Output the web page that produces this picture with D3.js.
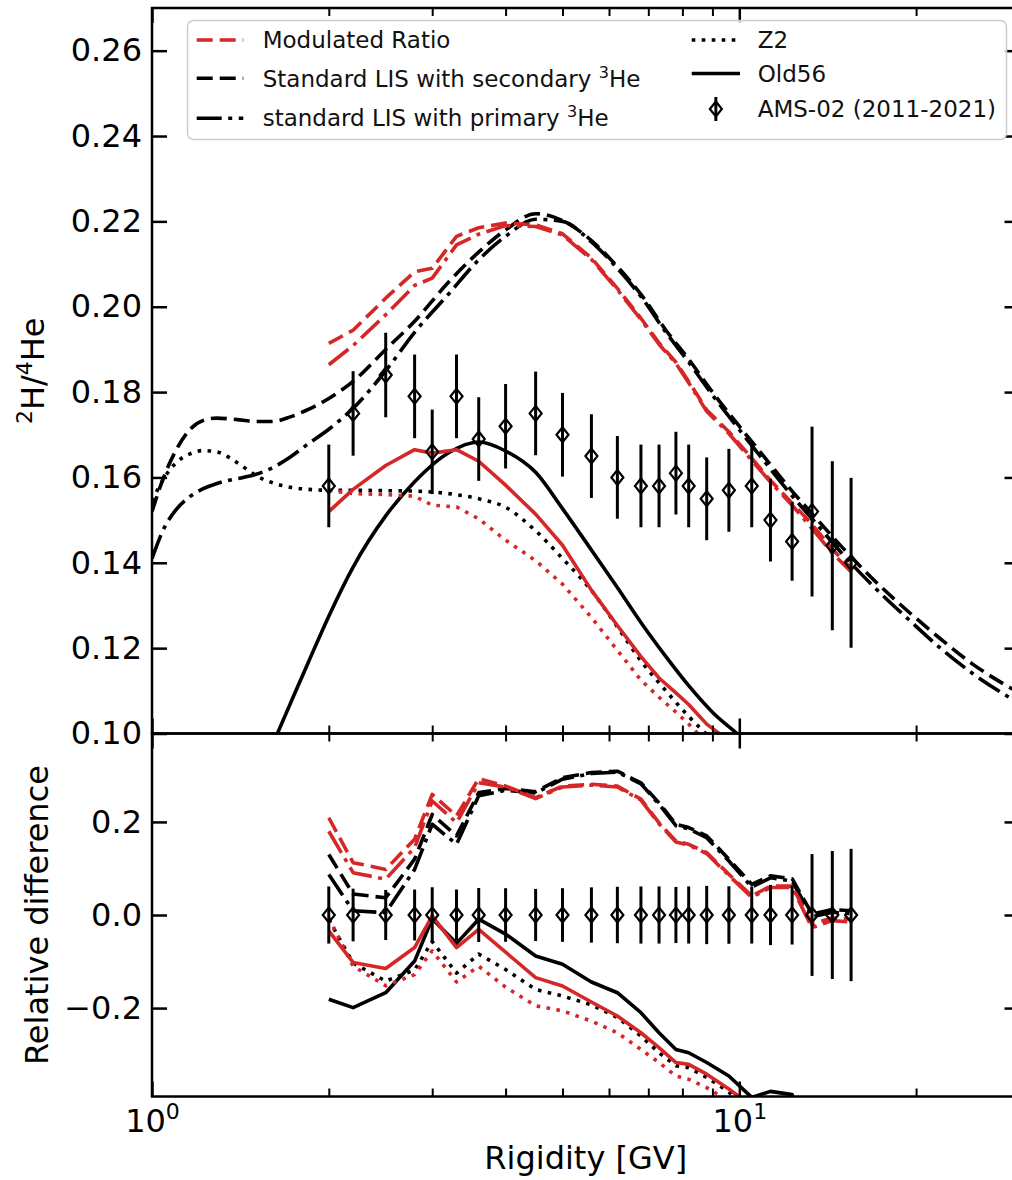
<!DOCTYPE html>
<html><head><meta charset="utf-8">
<script src="https://cdn.jsdelivr.net/npm/d3@7"></script>
<style>body{margin:0;background:#fff} svg{display:block;font-family:"DejaVu Sans",sans-serif}</style>
</head><body><div id="chart"></div>
<script>
// ---------------- data ----------------
const rigidity = [2.0,2.2,2.5,2.8,3.0,3.3,3.6,4.0,4.5,5.0,5.6,6.2,6.8,7.3,7.8,8.2,8.8,9.6,10.5,11.3,12.3,13.3,14.4,15.5];
const amsRatio = [0.158,0.175,0.184,0.179,0.166,0.179,0.169,0.172,0.175,0.170,0.165,0.160,0.158,0.158,0.161,0.158,0.155,0.157,0.158,0.150,0.145,0.152,0.144,0.140];
const amsErr   = [0.0097,0.0099,0.0099,0.0098,0.0099,0.0098,0.0098,0.0099,0.0098,0.0098,0.0098,0.0097,0.0097,0.0097,0.0097,0.0097,0.0097,0.0097,0.0097,0.0097,0.0092,0.0199,0.0198,0.0199];

const modSecondary = [0.1914,0.1945,0.2020,0.2082,0.2090,0.2165,0.2185,0.2196,0.2192,0.2171,0.2114,0.2043,0.1973,0.1915,0.1870,0.1825,0.1758,0.1707,0.1645,0.1593,0.1540,0.1490,0.1432,0.1387];
const modPrimary   = [0.1864,0.1909,0.1981,0.2050,0.2067,0.2145,0.2170,0.2190,0.2188,0.2168,0.2111,0.2040,0.1970,0.1912,0.1867,0.1822,0.1755,0.1703,0.1640,0.1589,0.1535,0.1480,0.1423,0.1379];
const modOld56     = [0.1520,0.1572,0.1628,0.1665,0.1657,0.1665,0.1638,0.1582,0.1514,0.1441,0.1336,0.1253,0.1180,0.1130,0.1095,0.1068,0.1022,0.0983,0.0930,0.0880,0.0830,0.0790,0.0750,0.0710];
const modZ2        = [0.1570,0.1562,0.1560,0.1556,0.1535,0.1531,0.1503,0.1453,0.1405,0.1350,0.1272,0.1195,0.1125,0.1085,0.1050,0.1022,0.0978,0.0940,0.0890,0.0850,0.0810,0.0770,0.0730,0.0690];

const lisRigidity  = [1.0,1.05,1.1,1.16,1.22,1.29,1.36,1.43,1.5,1.6,1.72,1.85,2.0,2.2,2.5,2.8,3.2,3.6,4.0,4.5,5.0,5.6,6.2,6.8,7.5,8.2,9.0,10,11,12.3,13.5,15,17,19.5,22,25,30];
const lisSecondary = [0.1520,0.1605,0.1665,0.1712,0.1733,0.1739,0.1737,0.1734,0.1731,0.1731,0.1742,0.1760,0.1785,0.1825,0.1900,0.1966,0.2058,0.2128,0.2180,0.2218,0.2202,0.2155,0.2094,0.2029,0.1945,0.1877,0.1800,0.1720,0.1650,0.1568,0.1505,0.1435,0.1358,0.1283,0.1222,0.1162,0.1095];
const lisPrimary   = [0.1410,0.1483,0.1525,0.1555,0.1573,0.1586,0.1594,0.1600,0.1607,0.1622,0.1648,0.1680,0.1713,0.1762,0.1850,0.1940,0.2030,0.2110,0.2165,0.2205,0.2200,0.2152,0.2090,0.2024,0.1940,0.1870,0.1793,0.1712,0.1640,0.1557,0.1493,0.1420,0.1342,0.1265,0.1200,0.1140,0.1070];
const lisZ2        = [0.1545,0.1600,0.1635,0.1655,0.1663,0.1660,0.1645,0.1625,0.1605,0.1588,0.1577,0.1572,0.1570,0.1570,0.1569,0.1568,0.1562,0.1550,0.1530,0.1475,0.1410,0.1335,0.1250,0.1170,0.1100,0.1040,0.0985,0.0925,0.0870,0.0810,0.0760,0.0710,0.0650,0.0590,0.0540,0.0490,0.0420];
const lisOld56     = [0.0240,0.0330,0.0420,0.0520,0.0610,0.0700,0.0760,0.0815,0.0880,0.0970,0.1070,0.1170,0.1275,0.1390,0.1510,0.1590,0.1658,0.1683,0.1662,0.1612,0.1527,0.1430,0.1342,0.1260,0.1180,0.1112,0.1050,0.0995,0.0940,0.0870,0.0810,0.0750,0.0680,0.0610,0.0550,0.0490,0.0420];

const relSecondary    = [0.130,0.045,0.037,0.120,0.216,0.170,0.263,0.272,0.265,0.295,0.306,0.309,0.284,0.241,0.195,0.188,0.170,0.120,0.066,0.084,0.078,0.002,0.012,0.009];
const relPrimary      = [0.087,0.009,0.005,0.098,0.195,0.152,0.256,0.268,0.262,0.292,0.304,0.307,0.282,0.238,0.192,0.185,0.166,0.116,0.060,0.080,0.073,-0.004,0.006,0.003];
const relZ2           = [-0.010,-0.103,-0.142,-0.118,-0.057,-0.125,-0.084,-0.117,-0.160,-0.174,-0.193,-0.220,-0.260,-0.296,-0.324,-0.328,-0.349,-0.380,-0.440,-0.450,-0.460,-0.500,-0.520,-0.550];
const relOld56        = [-0.181,-0.199,-0.167,-0.099,-0.008,-0.061,-0.009,-0.041,-0.088,-0.106,-0.144,-0.167,-0.210,-0.253,-0.289,-0.296,-0.317,-0.346,-0.392,-0.379,-0.386,-0.500,-0.520,-0.550];
const relModSecondary = [0.209,0.1125,0.098,0.163,0.259,0.213,0.293,0.277,0.252,0.277,0.281,0.277,0.249,0.198,0.159,0.152,0.134,0.0875,0.041,0.062,0.062,-0.020,-0.006,-0.009];
const relModPrimary   = [0.180,0.091,0.077,0.145,0.245,0.1985,0.284,0.275,0.250,0.275,0.279,0.275,0.247,0.196,0.157,0.150,0.132,0.085,0.038,0.059,0.059,-0.027,-0.012,-0.015];
const relModZ2        = [-0.006,-0.110,-0.152,-0.128,-0.077,-0.144,-0.110,-0.155,-0.195,-0.206,-0.228,-0.253,-0.289,-0.317,-0.346,-0.353,-0.371,-0.400,-0.440,-0.450,-0.460,-0.500,-0.520,-0.550];
const relModOld56     = [-0.034,-0.102,-0.115,-0.070,-0.002,-0.070,-0.031,-0.080,-0.1345,-0.1525,-0.187,-0.217,-0.253,-0.285,-0.317,-0.321,-0.342,-0.374,-0.410,-0.410,-0.430,-0.480,-0.490,-0.500];

const topYTicks = [0.10,0.12,0.14,0.16,0.18,0.20,0.22,0.24,0.26];
const botYTicks = [-0.2,0.0,0.2];
const xMajorTicks = [1,10];
const xMinorTicks = [2,3,4,5,6,7,8,9,20,30];

// ---------------- layout ----------------
const W = 1012, H = 1180;
const RED = "#d62728", BLACK = "#000";
const LW = 3.6;
const DASH = "16,7", DASHDOT = "25,6.5,4,6.5", DOT = "3.6,6.4";

const svg = d3.select("#chart").append("svg").attr("width", W).attr("height", H);
svg.append("rect").attr("width", W).attr("height", H).attr("fill", "#fff");

const x = d3.scaleLog().domain([1, 30]).range([152, 152 + 587.3 * Math.log10(30)]);
const yTop = d3.scaleLinear().domain([0.10, 0.27]).range([733.5, 8]);
const yBot = d3.scaleLinear().domain([-0.39, 0.39]).range([1096.5, 733.5]);
const X0 = x.range()[0], X1 = x.range()[1];
const T0 = 8, TB = 733.5, BB = 1096.5;

const defs = svg.append("defs");
defs.append("clipPath").attr("id", "clipTop").append("rect")
  .attr("x", X0).attr("y", T0).attr("width", X1 - X0).attr("height", TB - T0);
defs.append("clipPath").attr("id", "clipBot").append("rect")
  .attr("x", X0).attr("y", TB).attr("width", X1 - X0).attr("height", BB - TB);

const gTop = svg.append("g").attr("clip-path", "url(#clipTop)");
const gBot = svg.append("g").attr("clip-path", "url(#clipBot)");

function drawLine(g, xs, ys, yScale, color, dash, smooth) {
  const pts = xs.map((r, i) => [r, ys[i]]);
  const line = d3.line().x(d => x(d[0])).y(d => yScale(d[1]))
    .curve(smooth ? d3.curveMonotoneX : d3.curveLinear);
  g.append("path").attr("d", line(pts)).attr("fill", "none")
    .attr("stroke", color).attr("stroke-width", LW)
    .attr("stroke-dasharray", dash).attr("stroke-linecap", "butt")
    .attr("stroke-linejoin", "round");
}

// top panel curves
drawLine(gTop, lisRigidity, lisSecondary, yTop, BLACK, DASH, true);
drawLine(gTop, lisRigidity, lisPrimary, yTop, BLACK, DASHDOT, true);
drawLine(gTop, lisRigidity, lisZ2, yTop, BLACK, DOT, true);
drawLine(gTop, lisRigidity, lisOld56, yTop, BLACK, null, true);
drawLine(gTop, rigidity, modSecondary, yTop, RED, DASH, false);
drawLine(gTop, rigidity, modPrimary, yTop, RED, DASHDOT, false);
drawLine(gTop, rigidity, modZ2, yTop, RED, DOT, false);
drawLine(gTop, rigidity, modOld56, yTop, RED, null, false);

// bottom panel curves
drawLine(gBot, rigidity, relSecondary, yBot, BLACK, DASH, false);
drawLine(gBot, rigidity, relPrimary, yBot, BLACK, DASHDOT, false);
drawLine(gBot, rigidity, relZ2, yBot, BLACK, DOT, false);
drawLine(gBot, rigidity, relOld56, yBot, BLACK, null, false);
drawLine(gBot, rigidity, relModSecondary, yBot, RED, DASH, false);
drawLine(gBot, rigidity, relModPrimary, yBot, RED, DASHDOT, false);
drawLine(gBot, rigidity, relModZ2, yBot, RED, DOT, false);
drawLine(gBot, rigidity, relModOld56, yBot, RED, null, false);

const diamond = "M0,-7.5L6,0L0,7.5L-6,0Z";
function drawErr(g, xs, vals, errs, yScale) {
  const d = xs.map((r, i) => ({r, v: vals[i], e: errs[i]}));
  g.selectAll(null).data(d).enter().append("line")
    .attr("x1", p => x(p.r)).attr("x2", p => x(p.r))
    .attr("y1", p => yScale(p.v - p.e)).attr("y2", p => yScale(p.v + p.e))
    .attr("stroke", BLACK).attr("stroke-width", 3);
  g.selectAll(null).data(d).enter().append("path")
    .attr("d", diamond).attr("transform", p => `translate(${x(p.r)},${yScale(p.v)})`)
    .attr("fill", "none").attr("stroke", BLACK).attr("stroke-width", 2.2);
}
drawErr(gTop, rigidity, amsRatio, amsErr, yTop);
drawErr(gBot, rigidity, amsRatio.map(() => 0), amsErr.map((e, i) => e / amsRatio[i]), yBot);

// ---------------- axes ----------------
function styleAxis(g, major) {
  g.select(".domain").remove();
  g.attr("font-family", "DejaVu Sans, sans-serif").attr("font-size", 32);
  g.selectAll(".tick line").attr("stroke", BLACK).attr("stroke-width", major ? 2.5 : 2);
  g.selectAll(".tick text").attr("fill", BLACK);
  return g;
}
function xAxes(axisFn, yPos, withLabels) {
  const gM = svg.append("g").attr("transform", `translate(0,${yPos})`)
    .call(axisFn(x).tickValues(xMajorTicks).tickSize(-15).tickSizeOuter(0).tickPadding(13)
      .tickFormat(withLabels ? (d => "10") : ""));
  styleAxis(gM, true);
  if (withLabels) {
    gM.selectAll(".tick text").each(function(d) {
      const t = d3.select(this);
      t.text(null);
      t.append("tspan").text("10");
      t.append("tspan").attr("font-size", 22).attr("dy", -13).text(Math.round(Math.log10(d)));
    });
  }
  const gm = svg.append("g").attr("transform", `translate(0,${yPos})`)
    .call(axisFn(x).tickValues(xMinorTicks).tickSize(-8).tickSizeOuter(0).tickFormat(""));
  styleAxis(gm, false);
}
// top panel
xAxes(d3.axisTop, T0, false);
xAxes(d3.axisBottom, TB, false);
// bottom panel
xAxes(d3.axisTop, TB, false);
xAxes(d3.axisBottom, BB, true);

styleAxis(svg.append("g").attr("transform", `translate(${X0},0)`)
  .call(d3.axisLeft(yTop).tickValues(topYTicks).tickSize(-15).tickSizeOuter(0).tickPadding(10)
    .tickFormat(d3.format(".2f"))), true);
styleAxis(svg.append("g").attr("transform", `translate(${X1},0)`)
  .call(d3.axisRight(yTop).tickValues(topYTicks).tickSize(-15).tickSizeOuter(0).tickFormat("")), true);
styleAxis(svg.append("g").attr("transform", `translate(${X0},0)`)
  .call(d3.axisLeft(yBot).tickValues(botYTicks).tickSize(-15).tickSizeOuter(0).tickPadding(10)
    .tickFormat(d3.format(".1f"))), true);
styleAxis(svg.append("g").attr("transform", `translate(${X1},0)`)
  .call(d3.axisRight(yBot).tickValues(botYTicks).tickSize(-15).tickSizeOuter(0).tickFormat("")), true);

// spines
svg.append("rect").attr("x", X0).attr("y", T0).attr("width", X1 - X0).attr("height", TB - T0)
  .attr("fill", "none").attr("stroke", BLACK).attr("stroke-width", 2.5);
svg.append("rect").attr("x", X0).attr("y", TB).attr("width", X1 - X0).attr("height", BB - TB)
  .attr("fill", "none").attr("stroke", BLACK).attr("stroke-width", 2.5);

// rich text with superscripts
function richText(sel, parts, big, supSize, shift) {
  let pending = 0;
  parts.forEach(p => {
    const ts = sel.append("tspan");
    if (p.sup) {
      ts.attr("font-size", supSize).attr("dy", pending - shift);
      pending = shift;
    } else {
      ts.attr("font-size", big);
      if (pending) ts.attr("dy", pending);
      pending = 0;
    }
    ts.text(p.t);
  });
}
const yl = svg.append("text").attr("transform", `translate(44,${(T0 + TB) / 2}) rotate(-90)`)
  .attr("text-anchor", "middle").attr("font-size", 32).attr("fill", BLACK);
richText(yl, [{t:"2", sup:true}, {t:"H/"}, {t:"4", sup:true}, {t:"He"}], 32, 22, 12);

svg.append("text").attr("transform", `translate(48,${(TB + BB) / 2}) rotate(-90)`)
  .attr("text-anchor", "middle").attr("font-size", 32).attr("fill", BLACK).text("Relative difference");
svg.append("text").attr("x", (X0 + X1) / 2).attr("y", 1169)
  .attr("text-anchor", "middle").attr("font-size", 32).attr("fill", BLACK).text("Rigidity [GV]");

// ---------------- legend ----------------
const lg = svg.append("g");
lg.append("rect").attr("x", 187.5).attr("y", 20.5).attr("width", 819).attr("height", 119).attr("rx", 6)
  .attr("fill", "#fff").attr("fill-opacity", 0.8).attr("stroke", "#cccccc").attr("stroke-width", 1.5);
const legendItems = [
  {x1:196.7, x2:243.3, tx:262.7, hy:40,    ty:48,    color:RED,   dash:DASH,    parts:[{t:"Modulated Ratio"}]},
  {x1:196.7, x2:243.3, tx:262.7, hy:78.3,  ty:86.5,  color:BLACK, dash:DASH,    parts:[{t:"Standard LIS with secondary "},{t:"3",sup:true},{t:"He"}]},
  {x1:196.7, x2:243.3, tx:262.7, hy:118.3, ty:126,   color:BLACK, dash:DASHDOT, parts:[{t:"standard LIS with primary "},{t:"3",sup:true},{t:"He"}]},
  {x1:691.7, x2:740,   tx:757.7, hy:40,    ty:48,    color:BLACK, dash:DOT,     parts:[{t:"Z2"}]},
  {x1:691.7, x2:740,   tx:757.7, hy:73.5,  ty:82,    color:BLACK, dash:null,    parts:[{t:"Old56"}]},
  {x1:691.7, x2:740,   tx:757.7, hy:109,   ty:117,   err:true,                  parts:[{t:"AMS-02 (2011-2021)"}]}
];
legendItems.forEach(it => {
  if (it.err) {
    const cx = (it.x1 + it.x2) / 2;
    lg.append("line").attr("x1", cx).attr("x2", cx).attr("y1", it.hy - 12).attr("y2", it.hy + 12)
      .attr("stroke", BLACK).attr("stroke-width", 3);
    lg.append("path").attr("d", diamond).attr("transform", `translate(${cx},${it.hy})`)
      .attr("fill", "none").attr("stroke", BLACK).attr("stroke-width", 2.2);
  } else {
    lg.append("line").attr("x1", it.x1).attr("x2", it.x2).attr("y1", it.hy).attr("y2", it.hy)
      .attr("stroke", it.color).attr("stroke-width", LW).attr("stroke-dasharray", it.dash);
  }
  const t = lg.append("text").attr("x", it.tx).attr("y", it.ty).attr("font-size", 23).attr("fill", "#111");
  richText(t, it.parts, 23, 16, 9);
});
</script></body></html>
